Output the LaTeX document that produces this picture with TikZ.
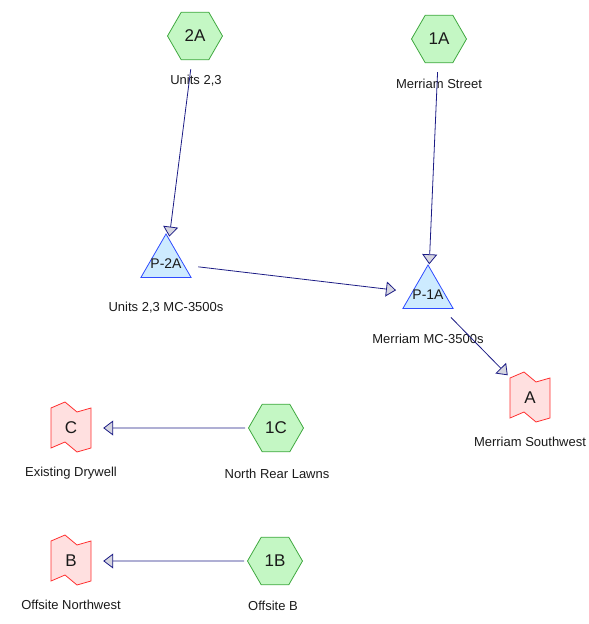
\documentclass[tikz,border=0pt]{standalone}
\usepackage{fontspec}
\setmainfont{Liberation Sans}
\usepackage{tikz}
\usetikzlibrary{shapes.geometric,arrows.meta}
\definecolor{HexGreen}{HTML}{C4F7C4}
\definecolor{HexLine}{HTML}{3FA83F}
\definecolor{PumpBlue}{HTML}{CDEBFF}
\definecolor{PumpLine}{HTML}{2F4CFF}
\definecolor{OutPink}{HTML}{FFE0E0}
\definecolor{OutRed}{HTML}{FF3030}
\definecolor{PipeNavy}{HTML}{1C1C85}
\definecolor{TipGray}{HTML}{D6D6E0}
\definecolor{TextDark}{HTML}{1A1A1A}
% text that does not push the triangle open
\newcommand{\pumptext}[1]{\smash{\raisebox{-5pt}{\makebox[0pt]{#1}}}}

\begin{document}
\begin{tikzpicture}[x=1pt,y=-1pt,
  catch/.style={regular polygon, regular polygon sides=6, minimum size=55pt, inner sep=0pt,
    fill=HexGreen, draw=HexLine, line width=0.8pt, text=TextDark, font=\fontsize{17pt}{20pt}\selectfont},
  pump/.style={regular polygon, regular polygon sides=3, minimum size=58pt, inner sep=0pt,
    fill=PumpBlue, draw=PumpLine, line width=0.8pt, text=TextDark, font=\fontsize{14pt}{16pt}\selectfont},
  outfall/.style={rectangle, minimum width=40pt, minimum height=46pt, inner sep=0pt,
    text=TextDark, font=\fontsize{17pt}{20pt}\selectfont},
  flagline/.style={fill=OutPink, draw=OutRed, line width=0.8pt},
  tag/.style={inner sep=0pt, text height=9.3pt, text depth=0pt, text=TextDark, font=\fontsize{13pt}{15pt}\selectfont},
  pipe/.style={draw=PipeNavy, line width=0.8pt, -{Triangle[length=10pt,width=15pt,fill=TipGray]}}
]
  \useasboundingbox (0,0) rectangle (589,624);

  % --- Catchments (hexagons) ---
  \node[catch] (catch2A) at (195,36) {2A};
  \node[tag] (catch2A-tag) at (196,80) {Units 2,3};
  \node[catch] (catch1A) at (439,39) {1A};
  \node[tag] (catch1A-tag) at (439,84) {Merriam Street};
  \node[catch] (catch1C) at (276,428) {1C};
  \node[tag] (catch1C-tag) at (277,474) {North Rear Lawns};
  \node[catch] (catch1B) at (275,561) {1B};
  \node[tag] (catch1B-tag) at (273,606) {Offsite B};

  % --- Pumps (triangles) ---
  \node[pump] (pump2A) at (166,263) {\pumptext{P-2A}};
  \node[tag] (pump2A-tag) at (166,307) {Units 2,3 MC-3500s};
  \node[pump] (pump1A) at (428,294) {\pumptext{P-1A}};
  \node[tag] (pump1A-tag) at (428,339) {Merriam MC-3500s};

  % --- Outfalls (flags) ---
  \foreach \name/\x/\y/\txt in {A/530/398/Merriam Southwest, C/71/428/Existing Drywell, B/71/561/Offsite Northwest} {
    \draw[flagline] (\x-20,\y-20) -- (\x-6,\y-26) -- (\x+6,\y-16) -- (\x+20,\y-20)
      -- (\x+20,\y+20) -- (\x+6,\y+24) -- (\x-6,\y+14) -- (\x-20,\y+20) -- cycle;
    \node[outfall] (out\name) at (\x,\y) {\name};
    \node[tag] (out\name-tag) at (\x,\y+44) {\txt};
  }

  % --- Links ---
  \draw[pipe, shorten <=9pt, shorten >=2pt] (catch2A) -- (pump2A);
  \draw[pipe, shorten <=9pt, shorten >=2pt] (catch1A) -- (pump1A);
  \draw[pipe, shorten <=14pt, shorten >=16pt] (pump2A) -- (pump1A);
  \draw[pipe, shorten <=12pt, shorten >=3pt] (pump1A) -- (outA);
  \draw[pipe, shorten <=3pt, shorten >=12pt] (catch1C) -- (outC);
  \draw[pipe, shorten <=3pt, shorten >=12pt] (catch1B) -- (outB);
\end{tikzpicture}
\end{document}
